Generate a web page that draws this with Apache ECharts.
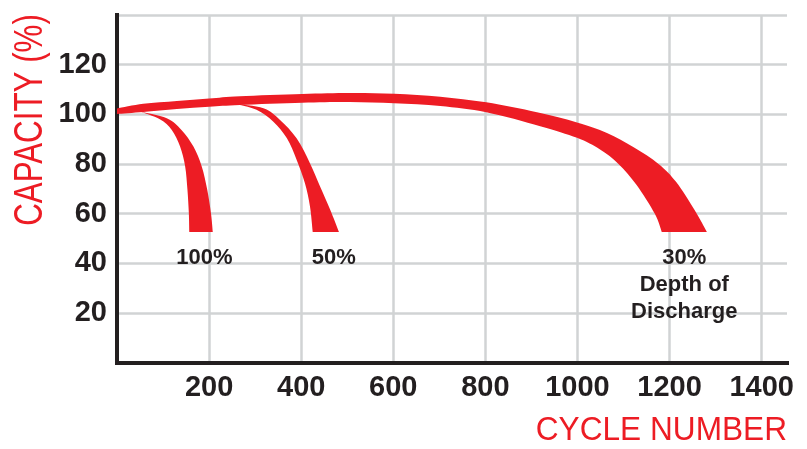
<!DOCTYPE html>
<html>
<head>
<meta charset="utf-8">
<script src="https://cdn.jsdelivr.net/npm/echarts@6/dist/echarts.min.js"></script>
<style>
html,body{margin:0;padding:0;background:#fff;}
#chart{width:807px;height:449px;}
</style>
</head>
<body>
<div id="chart"></div>
<script>
// ---- data ----
const xTickLabels = [200, 400, 600, 800, 1000, 1200, 1400];
const yTickLabels = [20, 40, 60, 80, 100, 120];

// 30% depth of discharge band (upper edge, lower edge) [cycles, capacity %]
const dod30Upper = [[0,102.3],[57,104.2],[130,105.4],[200,106.4],[267,107.3],[402,108.2],[506,108.6],[602,108.3],[702,107.1],[802,104.8],[912,100.8],[999,96.7],[1064,92.5],[1122,86.7],[1176,80.0],[1214,72.8],[1254,61.5],[1281,52.6]];
const dod30Lower = [[0,100.1],[57,100.9],[130,102.1],[200,103.0],[267,103.7],[402,104.6],[506,104.9],[602,104.4],[702,103.3],[802,100.8],[919,95.2],[999,90.5],[1049,85.8],[1089,80.0],[1128,71.6],[1168,59.9],[1183,52.6]];

// 100% depth of discharge branch
const dod100Outer = [[48,101.2],[108,98.4],[140,93.7],[166,87.0],[184,79.0],[196,69.6],[204,60.2],[208,52.6]];
const dod100Inner = [[48,101.2],[93,98.0],[119,93.7],[137,87.0],[148,79.0],[153,69.6],[156,60.2],[157,52.6]];

// 50% depth of discharge branch
const dod50Outer = [[255,104.2],[318,102.4],[354,97.7],[390,90.3],[419,80.3],[441,70.9],[463,61.5],[482,52.6]];
const dod50Inner = [[255,104.2],[303,101.8],[339,97.1],[369,90.3],[390,81.7],[408,72.3],[419,62.9],[425,52.6]];

const dodLabels = ['100%', '50%', '30%\nDepth of\nDischarge'];

// ---- styling ----
const RED = '#ed1c24';
const INK = '#231f20';
const GRID = '#d1d3d4';
const FONT = '"Liberation Sans", Arial, sans-serif';

function smoothSeg(pts) {
  let d = '';
  for (let i = 0; i < pts.length - 1; i++) {
    const p0 = pts[i - 1] || pts[i], p1 = pts[i], p2 = pts[i + 1], p3 = pts[i + 2] || p2;
    const c1x = p1[0] + (p2[0] - p0[0]) / 6, c1y = p1[1] + (p2[1] - p0[1]) / 6;
    const c2x = p2[0] - (p3[0] - p1[0]) / 6, c2y = p2[1] - (p3[1] - p1[1]) / 6;
    d += ' C' + c1x + ',' + c1y + ' ' + c2x + ',' + c2y + ' ' + p2[0] + ',' + p2[1];
  }
  return d;
}

function bandSeries(edgeA, edgeB) {
  return {
    type: 'custom',
    coordinateSystem: 'cartesian2d',
    data: [[edgeA[0][0], edgeA[0][1]]],
    silent: true,
    z: 3,
    renderItem: function (params, api) {
      const a = edgeA.map(p => api.coord(p));
      const b = edgeB.map(p => api.coord(p)).reverse();
      const d = 'M' + a[0][0] + ',' + a[0][1] + smoothSeg(a) +
        ' L' + b[0][0] + ',' + b[0][1] + smoothSeg(b) + ' Z';
      return {
        type: 'path',
        shape: { pathData: d },
        style: { fill: RED, stroke: null }
      };
    }
  };
}

const labelAnchors = [[190, 42.1], [471, 42.1], [1232, 31.3]];

const chart = echarts.init(document.getElementById('chart'), null, { renderer: 'canvas' });

const option = {
  animation: false,
  backgroundColor: '#fff',
  grid: { left: 117, right: 20, top: 15, bottom: 86.5 },
  xAxis: {
    type: 'value',
    min: 0, max: 1455, interval: 200,
    axisLine: { show: true, onZero: false, lineStyle: { color: INK, width: 4, cap: 'square' } },
    axisTick: { show: false },
    axisLabel: {
      margin: 11,
      fontSize: 29, fontWeight: 'bold', fontFamily: FONT, color: INK,
      formatter: v => xTickLabels.indexOf(v) >= 0 ? String(v) : ''
    },
    splitLine: { show: true, showMinLine: false, showMaxLine: false, lineStyle: { color: GRID, width: 2.5 } }
  },
  yAxis: {
    type: 'value',
    min: 0, max: 140, interval: 20,
    axisLine: { show: true, onZero: false, lineStyle: { color: INK, width: 4, cap: 'square' } },
    axisTick: { show: false },
    axisLabel: {
      margin: 10,
      fontSize: 29, fontWeight: 'bold', fontFamily: FONT, color: INK,
      formatter: v => yTickLabels.indexOf(v) >= 0 ? String(v) : ''
    },
    splitLine: { show: true, showMinLine: false, lineStyle: { color: GRID, width: 2.5 } }
  },
  graphic: [
    {
      type: 'text', x: 787, y: 431, scaleX: 0.93,
      style: { text: 'CYCLE NUMBER', fill: RED, font: '34px ' + FONT, align: 'right', verticalAlign: 'middle' }
    },
    {
      type: 'text', x: 31, y: 120, rotation: Math.PI / 2, scaleX: 0.764,
      style: { text: 'CAPACITY (%)', fill: RED, font: '41px ' + FONT, align: 'center', verticalAlign: 'middle' }
    }
  ],
  series: [
    bandSeries(dod30Upper, dod30Lower),
    bandSeries(dod100Outer, dod100Inner),
    bandSeries(dod50Outer, dod50Inner),
    {
      type: 'custom',
      coordinateSystem: 'cartesian2d',
      silent: true,
      z: 4,
      data: labelAnchors,
      renderItem: function (params, api) {
        const p = api.coord([api.value(0), api.value(1)]);
        return {
          type: 'text',
          x: p[0], y: p[1],
          style: {
            text: dodLabels[params.dataIndex],
            fill: INK,
            font: 'bold 22px ' + FONT,
            align: 'center', verticalAlign: 'middle',
            lineHeight: 27
          }
        };
      }
    }
  ]
};
chart.setOption(option);
</script>
</body>
</html>
